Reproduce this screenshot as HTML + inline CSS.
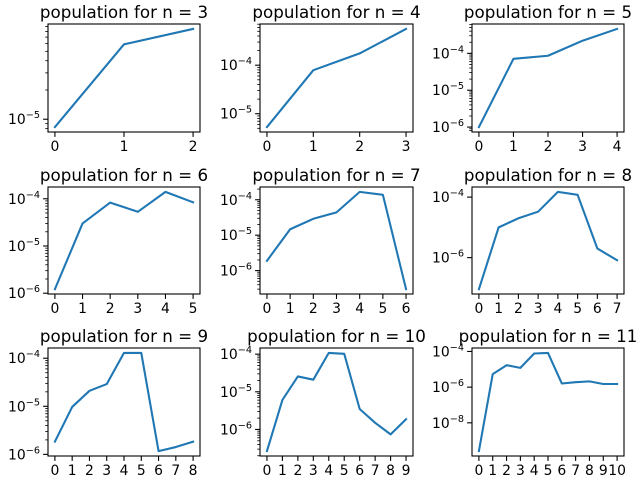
<!DOCTYPE html>
<html><head><meta charset="utf-8"><style>
body{margin:0;background:#fff}
svg{display:block;font-family:"DejaVu Sans","Liberation Sans",sans-serif}
</style></head><body>
<svg id="fig" width="640" height="480" viewBox="0 0 640 480" xmlns="http://www.w3.org/2000/svg">
<rect width="640" height="480" fill="#fff"/>
</svg>
<script>
const nValues = [3,4,5,6,7,8,9,10,11];
const pop3 = [8.3e-6, 5.9e-5, 8.5e-5];
const pop4 = [5.3e-6, 7.9e-5, 1.75e-4, 5.6e-4];
const pop5 = [1.0e-6, 7.1e-5, 8.6e-5, 2.2e-4, 4.6e-4];
const pop6 = [1.22e-6, 3.0e-5, 8.3e-5, 5.3e-5, 1.4e-4, 8.4e-5];
const pop7 = [1.9e-6, 1.47e-5, 2.9e-5, 4.4e-5, 1.67e-4, 1.38e-4, 3.0e-7];
const pop8 = [9.1e-8, 1.0e-5, 2.0e-5, 3.3e-5, 1.49e-4, 1.19e-4, 2.0e-6, 8.2e-7];
const pop9 = [1.84e-6, 9.7e-6, 2.1e-5, 2.9e-5, 1.29e-4, 1.29e-4, 1.17e-6, 1.42e-6, 1.84e-6];
const pop10 = [2.66e-7, 6.1e-6, 2.56e-5, 2.1e-5, 1.08e-4, 1.02e-4, 3.5e-6, 1.5e-6, 7.4e-7, 1.87e-6];
const pop11 = [2.6e-10, 5.4e-6, 1.7e-5, 1.2e-5, 7.7e-5, 8.3e-5, 1.6e-6, 1.9e-6, 2.1e-6, 1.5e-6, 1.5e-6];
const series = [pop3,pop4,pop5,pop6,pop7,pop8,pop9,pop10,pop11];
const tickStep = [1,1,1,1,1,2,1,1,2];

const NS = "http://www.w3.org/2000/svg";
const svg = document.getElementById('fig');
const lefts = [48,260,472], rights = [200,413,624];
const tops = [24,187,348], bottoms = [132,294,456];
function mk(tag, attrs, parent){const e=document.createElementNS(NS,tag);for(const k in attrs)e.setAttribute(k,attrs[k]);(parent||svg).appendChild(e);return e;}

series.forEach((vals, i) => {
  const n = nValues[i];
  const r = Math.floor(i/3), c = i%3;
  const L=lefts[c], R=rights[c], T=tops[r], B=bottoms[r];
  const g = mk('g',{});
  
  
  const logs = vals.map(v=>Math.log10(v));
  let lo=Math.min(...logs), hi=Math.max(...logs); const m=(hi-lo)*0.05; lo-=m; hi+=m;
  const xmax=vals.length-1, x0=-0.05*xmax, x1=xmax*1.05;
  const X = x => L + (x-x0)/(x1-x0)*(R-L);
  const Y = v => B - (Math.log10(v)-lo)/(hi-lo)*(B-T);
  const pts = vals.map((v,k)=>X(k).toFixed(2)+','+Y(v).toFixed(2)).join(' ');
  const line = mk('polyline',{points:pts,fill:'none',stroke:'#1f77b4','stroke-width':2.08,'stroke-linejoin':'round','stroke-linecap':'square'},g);
  
  
  const fr = mk('rect',{x:L,y:T,width:R-L,height:B-T,fill:'none',stroke:'#000','stroke-width':1.1},g);
  
  
  for(let k=0;k<=xmax;k++){
    const x=X(k);
    mk('line',{x1:x,y1:B,x2:x,y2:B+4.9,stroke:'#000','stroke-width':1.1},g);
    const t=mk('text',{x:x,y:B+19,'font-size':13.9,'text-anchor':'middle',fill:'#000'},g);
    t.textContent=String(k);
    
    
  }
  const step=tickStep[i];
  for(let e=Math.floor(lo);e<=Math.ceil(hi);e++){
    if(e>=lo&&e<=hi&&(e%step===0)){
      const y=B-(e-lo)/(hi-lo)*(B-T);
      mk('line',{x1:L-4.9,y1:y,x2:L,y2:y,stroke:'#000','stroke-width':1.1},g);
      const t=mk('text',{x:L-8,y:y+5,'font-size':13.9,'text-anchor':'end',fill:'#000'},g);
      
      
      const a=document.createElementNS(NS,'tspan');a.textContent='10';t.appendChild(a);
      const b=document.createElementNS(NS,'tspan');b.setAttribute('dy','-6');b.setAttribute('font-size','9.7');b.textContent='\u2212'+Math.abs(e);t.appendChild(b);
    }
    if(step===1){
      for(let mm=2;mm<=9;mm++){
        const lv=e+Math.log10(mm);
        if(lv>=lo&&lv<=hi){
          const y=B-(lv-lo)/(hi-lo)*(B-T);
          mk('line',{x1:L-2.8,y1:y,x2:L,y2:y,stroke:'#000','stroke-width':0.8},g);
        }
      }
    }
  }
  const tt=mk('text',{x:(L+R)/2,y:T-6,'font-size':16.7,'text-anchor':'middle',fill:'#000'},g);
  tt.textContent='population for n = '+n;
  
  
});
</script>
</body></html>
